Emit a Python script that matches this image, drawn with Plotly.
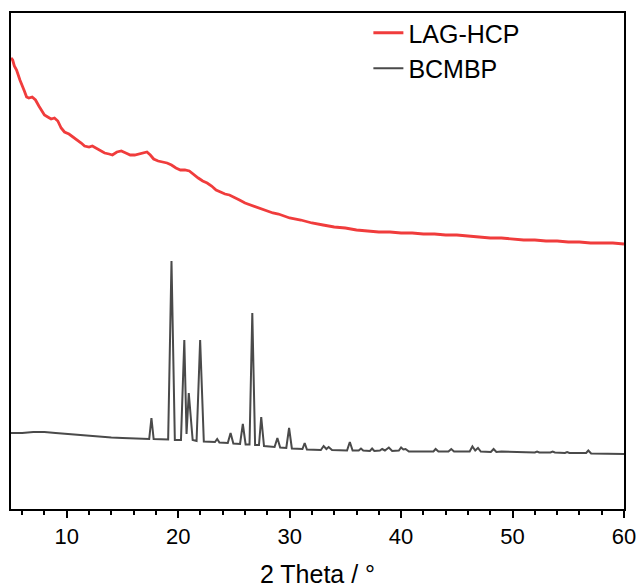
import plotly.graph_objects as go

# LAG-HCP (red) two-theta / intensity (arb. units)
lag_x = [5.0, 5.15, 5.3, 5.5, 5.8, 6.0, 6.2, 6.4, 6.6, 6.9, 7.2, 7.5, 7.8, 8.0, 8.3, 8.6, 8.9, 9.2, 9.5, 9.8,
         10.2, 10.6, 11.0, 11.3, 11.6, 12.0, 12.3, 12.6, 13.0, 13.4, 13.8, 14.1, 14.5, 14.9, 15.3, 15.7, 16.1,
         16.5, 16.9, 17.2, 17.5, 17.8, 18.2, 18.6, 19.0, 19.4, 19.8, 20.2, 20.6, 21.0, 21.4, 21.8, 22.2, 22.6,
         23.0, 23.4, 23.8, 24.2, 24.6, 25.0, 25.5, 26.0, 26.5, 27.0, 27.5, 28.0, 28.5, 29.0, 29.5, 30.0, 31.0,
         32.0, 33.0, 34.0, 35.0, 36.0, 37.0, 38.0, 39.0, 40.0, 41.0, 42.0, 43.0, 44.0, 45.0, 46.0, 47.0, 48.0,
         49.0, 50.0, 51.0, 52.0, 53.0, 54.0, 55.0, 56.0, 57.0, 58.0, 59.0, 60.0]
lag_y = [451, 449, 443, 439, 429, 424, 418, 412, 411, 412, 409, 403, 398, 394, 392, 390, 391, 388, 381, 377,
         375, 372, 369, 366, 363, 362, 363, 361, 359, 356, 355, 354, 357, 358, 356, 354, 354,
         355, 356, 357, 354, 350, 348, 347, 346, 344, 341, 339, 339, 338, 334, 331, 328, 326,
         323, 319, 317, 315, 314, 312, 309, 306, 304, 302, 300, 298, 296, 295, 293, 291, 289,
         286, 284, 282, 281, 279, 278, 277, 277, 276, 276, 275, 275, 274, 274, 273, 272, 271,
         271, 270, 269, 269, 268, 268, 267, 267, 266, 266, 266, 265]

# BCMBP (dark grey)
bc_x = [5.0, 6.0, 7.0, 8.0, 9.0, 10.0, 11.0, 12.0, 13.0, 14.0, 15.0, 16.0, 17.0, 17.4, 17.6, 17.8,
        19.1, 19.4, 19.7, 20.25, 20.55, 20.75, 20.95, 21.3, 21.65, 21.97, 22.3, 23.3, 23.5, 23.7,
        24.45, 24.7, 24.95, 25.55, 25.8, 26.05, 26.4, 26.65, 26.9, 27.25, 27.45, 27.7, 28.65, 28.9,
        29.15, 29.7, 29.95, 30.2, 31.15, 31.35, 31.55, 32.8, 33.05, 33.3, 33.5, 33.8, 35.15, 35.4,
        35.65, 36.2, 36.4, 36.6, 37.2, 37.4, 37.6, 38.1, 38.3, 38.55, 38.9, 39.2, 39.8, 40.0, 40.2,
        40.4, 40.7, 42.9, 43.1, 43.35, 44.25, 44.5, 44.75, 46.15, 46.4, 46.65, 46.9, 47.15, 48.05,
        48.3, 48.55, 49.0, 52.0, 52.2, 52.4, 53.4, 53.6, 53.8, 54.7, 54.9, 55.1, 56.6, 56.8, 57.05, 60.0]
bc_y = [76, 76, 77, 77, 76, 75, 74, 73, 72, 71.5, 71, 70.5, 70, 70, 91, 70,
        69.5, 248, 69, 69, 169, 75, 116, 69, 68, 169, 67.5, 67, 70, 66.5,
        66, 76, 65.5, 65, 85, 64.5, 64.5, 196, 64, 64, 92, 63, 62, 71,
        61.5, 61, 81, 60.5, 60, 66, 59.5, 59, 63, 60, 62, 59, 58.5, 67,
        58.5, 58.5, 60.5, 58.5, 58, 60.5, 58, 58.5, 60, 58.5, 61.5, 58, 58.5, 61.5, 59.5,
        60, 57.5, 57.5, 60, 57.5, 57.5, 60, 57.5, 57.5, 62.5, 58.5, 61, 57.5, 57,
        60, 57, 57.5, 56.5, 57.5, 56.5, 56.5, 57.5, 56.5, 56, 57, 56, 56, 58.5, 55.5, 55]

FONT = "Arial, Liberation Sans, sans-serif"

fig = go.Figure()
fig.add_trace(go.Scatter(x=lag_x, y=lag_y, mode="lines", name="LAG-HCP",
                         line=dict(color="#F03C3C", width=2.8)))
fig.add_trace(go.Scatter(x=bc_x, y=bc_y, mode="lines", name="BCMBP",
                         line=dict(color="#4A4A4A", width=2)))

fig.update_layout(
    width=640, height=588,
    margin=dict(l=11, r=15.5, t=13, b=79, autoexpand=False),
    paper_bgcolor="white", plot_bgcolor="white",
    font=dict(family=FONT, color="black"),
    showlegend=True,
    legend=dict(x=0.583, y=1.006, xanchor="left", yanchor="top",
                font=dict(size=25, family=FONT, color="black"),
                bgcolor="rgba(0,0,0,0)", borderwidth=0, itemwidth=30,
                tracegroupgap=0),
    xaxis=dict(range=[5, 60], tick0=0, dtick=10, ticks="outside", ticklen=7, tickwidth=1.5,
               tickcolor="black", showline=True, linecolor="black", linewidth=2, mirror=True,
               showgrid=False, zeroline=False, automargin=False,
               tickfont=dict(size=22, family=FONT, color="black"),
               minor=dict(dtick=2, tick0=0, ticks="outside", ticklen=4, tickwidth=1.5, tickcolor="black"),
               title=dict(text="2 Theta / °", font=dict(size=25, family=FONT, color="black"), standoff=18)),
    yaxis=dict(range=[0, 496], showticklabels=False, ticks="", showgrid=False, zeroline=False,
               automargin=False,
               showline=True, linecolor="black", linewidth=2, mirror=True),
)

fig.write_html("out.html", config={"displayModeBar": False},
               post_script="document.body.style.margin='0';document.body.style.overflow='hidden';")
